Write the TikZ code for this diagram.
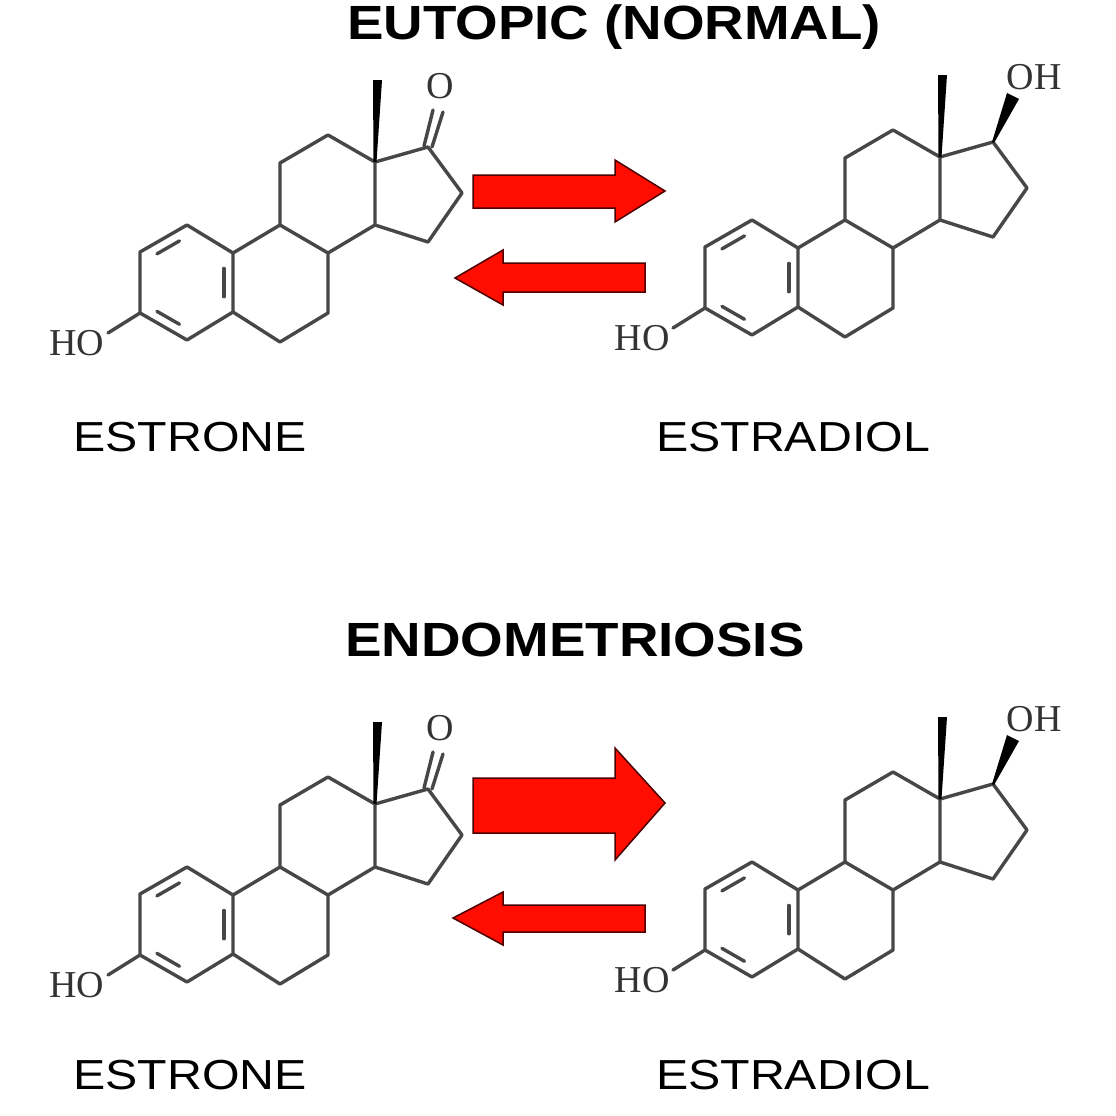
\documentclass[tikz,border=0pt]{standalone}
\usepackage{fontspec}
\setmainfont{Liberation Sans}
\newfontfamily\chemfont{Liberation Serif}
\usetikzlibrary{calc}
\tikzset{bond/.style={draw=black!72,line width=3.4pt,line cap=round,line join=round},
 redarrow/.style={fill=red!90!orange,draw=black!70!red,line width=1.5pt},
 title/.style={font=\bfseries\fontsize{48}{48}\selectfont,xscale=1.14},
 label/.style={font=\fontsize{42}{42}\selectfont,xscale=1.15},
 atom/.style={font=\chemfont\fontsize{38}{38}\selectfont,inner sep=0pt,text=black!80}}
\newcommand\mysteroid[2]{%
 \begin{scope}[shift={#1}]
 \coordinate (c3) at (140,313); \coordinate (c2) at (140,252); \coordinate (c1) at (187,225);
 \coordinate (c10) at (233,253); \coordinate (c5) at (233,312); \coordinate (c4) at (187,340);
 \coordinate (c9) at (280,225); \coordinate (c8) at (328,253); \coordinate (c7) at (328,313);
 \coordinate (c6) at (280,342); \coordinate (c11) at (280,163); \coordinate (c12) at (328,135);
 \coordinate (c13) at (375,162); \coordinate (c14) at (375,225); \coordinate (c17) at (428,147);
 \coordinate (c16) at (462,193); \coordinate (c15) at (428,242); \coordinate (ac) at (187,283);
 \path[bond] (c3)--(c2)--(c1)--(c10)--(c5)--(c4)--cycle;
 \path[bond] (c10)--(c9)--(c8)--(c7)--(c6)--(c5);
 \path[bond] (c9)--(c11)--(c12)--(c13)--(c14)--(c8);
 \path[bond] (c13)--(c17)--(c16)--(c15)--(c14);
 \path[bond] ($(c1)!0.2!(c2)!0.2!(ac)$)--($(c1)!0.8!(c2)!0.2!(ac)$);
 \path[bond] ($(c3)!0.2!(c4)!0.2!(ac)$)--($(c3)!0.8!(c4)!0.2!(ac)$);
 \path[bond] ($(c10)!0.2!(c5)!0.2!(ac)$)--($(c10)!0.8!(c5)!0.2!(ac)$);
 \fill[black] ($(c13)+(-1.5,0)$)--(373,80)--(382,80)--($(c13)+(1.5,0)$)--cycle;
 \node[atom] (ho) at (77,343) {HO};
 \path[bond] (c3)--(108,333);
 #2
 \end{scope}}
\begin{document}
\begin{tikzpicture}[x=1pt,y=-1pt]
\useasboundingbox (0,0) rectangle (1116,1116);
\fill[white] (0,0) rectangle (1116,1116);
\node[title] (t1) at (614,27) {EUTOPIC (NORMAL)};
\node[title] (t2) at (575,640) {ENDOMETRIOSIS};
% top
\mysteroid{(0,0)}{\node[atom] (o1) at (440,86) {O};
 \path[bond] ($(c17)+(-4,-1)$)--(433,110); \path[bond] ($(c17)+(4,0)$)--(443,112);}
\mysteroid{(565,-5)}{\node[atom] (oh1) at (469,82) {OH};
 \fill[black] ($(c17)+(-1,0)$)--(442,98)--(454,104)--($(c17)+(1,1)$)--cycle;}
\node[label] (l1) at (190,437) {ESTRONE};
\node[label] (l2) at (793,437) {ESTRADIOL};
\path[redarrow] (473,175)--(615,175)--(615,160)--(665,191)--(615,222)--(615,208)--(473,208)--cycle;
\path[redarrow] (645,263)--(503,263)--(503,250)--(455,278)--(503,305)--(503,292)--(645,292)--cycle;
% bottom
\mysteroid{(0,642)}{\node[atom] (o2) at (440,86) {O};
 \path[bond] ($(c17)+(-4,-1)$)--(433,110); \path[bond] ($(c17)+(4,0)$)--(443,112);}
\mysteroid{(565,637)}{\node[atom] (oh2) at (469,82) {OH};
 \fill[black] ($(c17)+(-1,0)$)--(442,98)--(454,104)--($(c17)+(1,1)$)--cycle;}
\node[label] (l3) at (190,1075) {ESTRONE};
\node[label] (l4) at (793,1075) {ESTRADIOL};
\path[redarrow] (473,778)--(615,778)--(615,748)--(665,803)--(615,860)--(615,833)--(473,833)--cycle;
\path[redarrow] (645,905)--(503,905)--(503,892)--(453,918)--(503,945)--(503,932)--(645,932)--cycle;
\end{tikzpicture}
\end{document}
